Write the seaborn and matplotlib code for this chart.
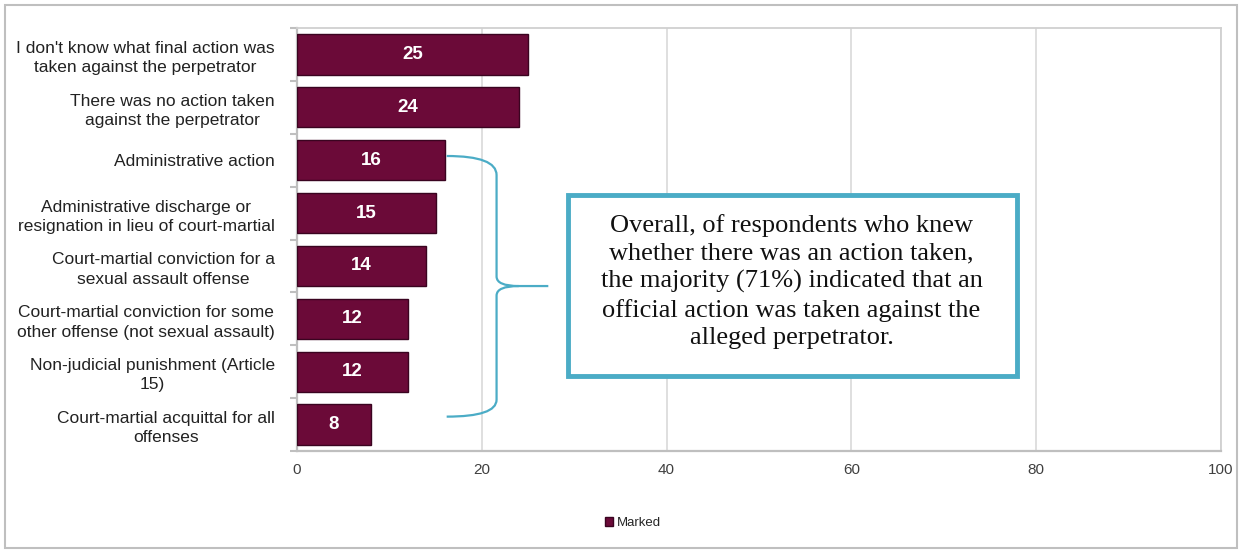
import pandas as pd
import seaborn as sns
import matplotlib.pyplot as plt
from matplotlib.path import Path
from matplotlib.patches import PathPatch, Rectangle

categories = [
    "I don't know what final action was\ntaken against the perpetrator",
    "There was no action taken\nagainst the perpetrator",
    "Administrative action",
    "Administrative discharge or\nresignation in lieu of court-martial",
    "Court-martial conviction for a\nsexual assault offense",
    "Court-martial conviction for some\nother offense (not sexual assault)",
    "Non-judicial punishment (Article\n15)",
    "Court-martial acquittal for all\noffenses",
]
values = [25, 24, 16, 15, 14, 12, 12, 8]
series = ["Marked"] * len(values)
x_ticks = [0, 20, 40, 60, 80, 100]
note = ("Overall, of respondents who knew\nwhether there was an action taken,\n"
        "the majority (71%) indicated that an\nofficial action was taken against the\n"
        "alleged perpetrator.")

df = pd.DataFrame({"category": categories, "value": values, "series": series})

maroon = "#6B0A38"
teal = "#4BACC6"
grey = "#BFBFBF"

sns.set_theme(style="white")
plt.rcParams["font.family"] = ["Liberation Sans", "DejaVu Sans"]

fig = plt.figure(figsize=(12.41, 5.5), dpi=100)
ax = fig.add_axes([0.2393, 0.18, 0.7446, 0.769])

sns.barplot(data=df, x="value", y="category", hue="series", palette=[maroon],
            orient="h", width=0.76, edgecolor="#3A0420", linewidth=1.0,
            saturation=1, ax=ax, zorder=3)

for bar, v in zip(ax.patches, values):
    ax.text(bar.get_x() + bar.get_width() / 2, bar.get_y() + bar.get_height() / 2,
            str(v), ha="center", va="center", color="white", fontsize=13.5,
            fontweight="bold", zorder=4)

ax.set_xlim(0, 100)
ax.set_xticks(x_ticks)
ax.set_xlabel("")
ax.set_ylabel("")
ax.tick_params(axis="x", labelsize=11, labelcolor="#404040", length=0, pad=9)
ax.tick_params(axis="y", labelsize=12.5, labelcolor="#222222", length=0, pad=16)
for lab in ax.get_yticklabels():
    lab.set_horizontalalignment("right")
    lab.set_multialignment("center")
    lab.set_linespacing(1.35)
ax.set_yticks([i + 0.5 for i in range(-1, len(values))], minor=True)
ax.tick_params(axis="y", which="minor", length=5, color=grey, width=1.5, left=True)
ax.grid(axis="x", color="#D9D9D9", linewidth=1.2, zorder=0)
for side in ["top", "bottom", "left", "right"]:
    ax.spines[side].set_visible(True)
    ax.spines[side].set_color("#D0D0D0")
    ax.spines[side].set_linewidth(1.3)
ax.spines["left"].set_color(grey)
ax.spines["left"].set_linewidth(1.6)
ax.spines["bottom"].set_color(grey)
ax.spines["bottom"].set_linewidth(1.6)

# curly brace grouping the official actions
verts = [(16.2, 1.92), (21.6, 1.92), (21.6, 2.28), (21.6, 4.2),
         (21.6, 4.38), (24.0, 4.38), (27.2, 4.38),
         (24.0, 4.38), (21.6, 4.38), (21.6, 4.56), (21.6, 6.53),
         (21.6, 6.85), (16.2, 6.85)]
codes = [Path.MOVETO, Path.CURVE3, Path.CURVE3, Path.LINETO,
         Path.CURVE3, Path.CURVE3, Path.LINETO,
         Path.MOVETO, Path.CURVE3, Path.CURVE3, Path.LINETO,
         Path.CURVE3, Path.CURVE3]
ax.add_patch(PathPatch(Path(verts, codes), fill=False, edgecolor=teal,
                       linewidth=1.6, clip_on=False, zorder=5))

# callout box
fig.add_artist(Rectangle((0.4577, 0.3164), 0.3618, 0.329, transform=fig.transFigure,
                         facecolor="white", edgecolor=teal, linewidth=3.5, zorder=5))
fig.text(0.6378, 0.488, note, ha="center", va="center", fontsize=19,
         family=["Liberation Serif", "DejaVu Serif"], linespacing=1.32,
         color="#111111", zorder=6)

# outer frame
fig.add_artist(Rectangle((0.004, 0.004), 0.993, 0.987, transform=fig.transFigure,
                         fill=False, edgecolor=grey, linewidth=1.5))

sns.move_legend(ax, "center", bbox_to_anchor=(0.51, 0.049),
                bbox_transform=fig.transFigure, frameon=False, title=None,
                fontsize=9.5, handlelength=0.6, handleheight=0.6, handletextpad=0.3)

fig.savefig("out.png", dpi=100)
